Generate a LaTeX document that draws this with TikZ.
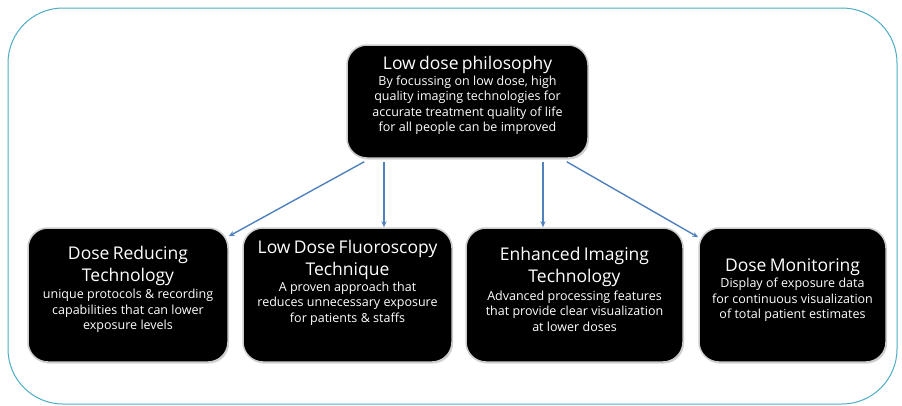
\documentclass[tikz,border=0pt]{standalone}
\usepackage{fontspec}
\setmainfont{Open Sans}
\usetikzlibrary{arrows.meta,shadows}
\definecolor{framecol}{RGB}{75,172,198}
\definecolor{arrcol}{RGB}{79,129,189}
\newcommand{\hd}[2][2pt]{{\fontsize{17.5}{22}\selectfont #2\par}\vspace{#1}}
\newcommand{\bd}[1]{{\fontsize{12.5}{15.5}\selectfont #1\par}}
\begin{document}
\begin{tikzpicture}[x=1pt, y=-1pt,
  box/.style={rectangle, rounded corners=20pt, draw=black!20, line width=1.5pt, fill=black,
    text=white, align=center, inner sep=2pt, minimum height=134pt,
    drop shadow={shadow xshift=1pt, shadow yshift=-1.5pt, opacity=0.35}},
  arr/.style={draw=arrcol, line width=1.4pt, -{Stealth[length=6pt, width=5pt]}},
  frame/.style={draw=framecol, line width=1pt, rounded corners=55pt}]
\useasboundingbox (0,0) rectangle (902,405);
\draw[frame] (8,8) rectangle (897,404);
\node[box, text width=235pt, minimum width=241pt, minimum height=113pt] (top) at (467.5,101.5)
  {\hd[0pt]{Low dose philosophy}
   \bd{By focussing on low dose, high\\ quality imaging technologies for\\
   accurate treatment quality of life\\ for all people can be improved}\vspace{12pt}};
\node[box, text width=194pt, minimum width=200pt] (b1) at (128,295)
  {\hd{Dose Reducing\\ Technology}
   \bd{unique protocols \& recording\\ capabilities that can lower\\ exposure levels}\vspace{11pt}};
\node[box, text width=203pt, minimum width=209pt] (b2) at (347.5,295)
  {\hd[0pt]{Low Dose Fluoroscopy\\ Technique}
   \bd{A proven approach that\\ reduces unnecessary exposure\\ for patients \& staffs}\vspace{24pt}};
\node[box, text width=211pt, minimum width=217pt] (b3) at (574.5,295)
  {\hd{Enhanced Imaging\\ Technology}
   \bd{Advanced processing features\\ that provide clear visualization\\ at lower doses}\vspace{11pt}};
\node[box, text width=181pt, minimum width=187pt] (b4) at (792.5,295)
  {\hd[1pt]{Dose Monitoring}
   \bd{Display of exposure data\\ for continuous visualization\\ of total patient estimates}\vspace{10pt}};
\draw[arr] ([xshift=18pt, yshift=-3pt]top.south west) -- ([yshift=-9pt]b1.north east);
\draw[arr] ([xshift=-83.5pt, yshift=-3pt]top.south) -- ([xshift=36.5pt]b2.north);
\draw[arr] ([xshift=75.5pt, yshift=-3pt]top.south) -- ([xshift=-31.5pt]b3.north);
\draw[arr] ([xshift=-22pt, yshift=-3pt]top.south east) -- ([yshift=-10pt]b4.north west);
\end{tikzpicture}
\end{document}
